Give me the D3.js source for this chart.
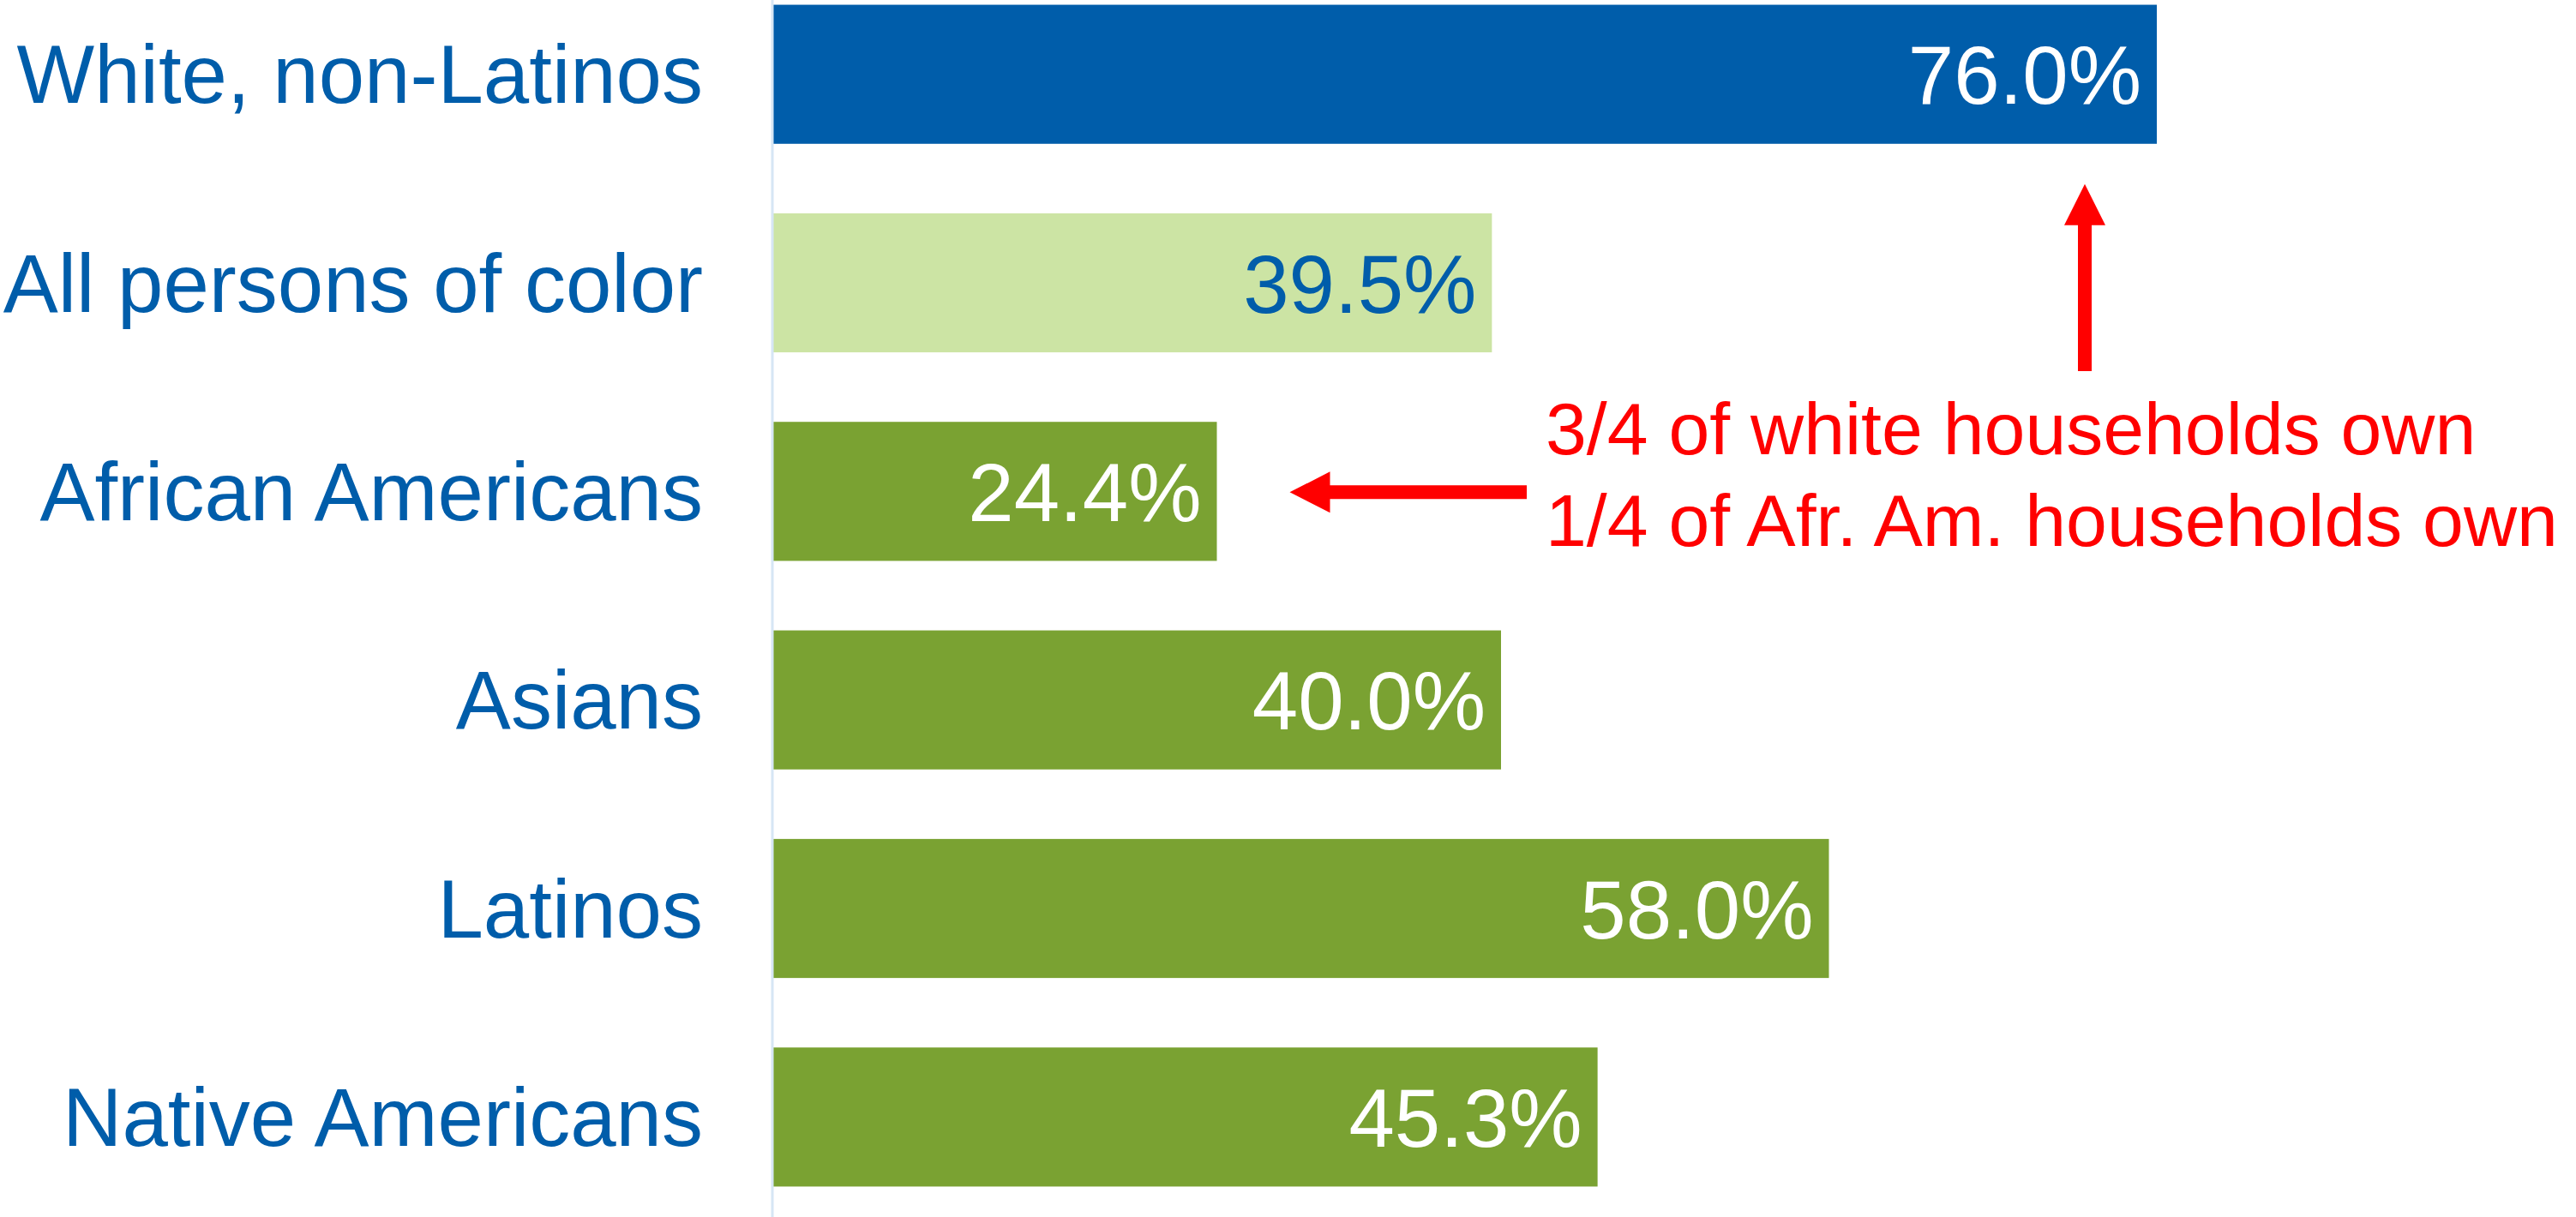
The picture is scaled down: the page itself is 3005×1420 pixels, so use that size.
<!DOCTYPE html>
<html>
<head>
<meta charset="utf-8">
<script src="https://cdn.jsdelivr.net/npm/d3@7"></script>
<style>
  body { margin: 0; background: #fff; }
  svg text { font-family: Arial, "Liberation Sans", Helvetica, sans-serif; }
</style>
</head>
<body>
<div id="chart"></div>
<script>
var groups = ["White, non-Latinos", "All persons of color", "African Americans", "Asians", "Latinos", "Native Americans"];
var ownRates = [76.0, 39.5, 24.4, 40.0, 58.0, 45.3];
var barColors = ["#005DAA", "#CCE4A4", "#7AA232", "#7AA232", "#7AA232", "#7AA232"];
var valueColors = ["#ffffff", "#005DAA", "#ffffff", "#ffffff", "#ffffff", "#ffffff"];
var noteLines = ["3/4 of white households own", "1/4 of Afr. Am. households own"];

var svgWidth = 3005;
var svgHeight = 1420;

var data = groups.map(function(g, i) {
  return { group: g, value: ownRates[i], fill: barColors[i], label: valueColors[i] };
});

var svg = d3.select("#chart")
  .append("svg")
  .attr("width", svgWidth)
  .attr("height", svgHeight);

// x: percent -> pixels, axis sits at 901
var xScale = d3.scaleLinear()
  .domain([0, 76])
  .range([901, 2516]);

// plot area runs a bit past the picture on top and bottom
var yScale = d3.scaleBand()
  .domain(groups)
  .range([-35, 1425])
  .paddingInner(1 / 3)
  .paddingOuter(1 / 6);

// bars
svg.selectAll("rect.bar")
  .data(data)
  .enter()
  .append("rect")
  .attr("class", "bar")
  .attr("x", xScale(0))
  .attr("y", d => yScale(d.group))
  .attr("width", d => xScale(d.value) - xScale(0))
  .attr("height", yScale.bandwidth())
  .attr("fill", d => d.fill);

// vertical axis line
svg.append("line")
  .attr("x1", xScale(0))
  .attr("x2", xScale(0))
  .attr("y1", 0)
  .attr("y2", svgHeight)
  .attr("stroke", "#D6E6F5")
  .attr("stroke-width", 3);

// category labels
svg.selectAll("text.cat")
  .data(data)
  .enter()
  .append("text")
  .attr("class", "cat")
  .attr("x", xScale(0) - 81)
  .attr("y", d => yScale(d.group) + yScale.bandwidth() / 2)
  .attr("dy", "0.35em")
  .attr("text-anchor", "end")
  .attr("font-size", 96)
  .attr("fill", "#005DAA")
  .text(d => d.group);

// value labels inside the bars
svg.selectAll("text.val")
  .data(data)
  .enter()
  .append("text")
  .attr("class", "val")
  .attr("x", d => xScale(d.value) - 18)
  .attr("y", d => yScale(d.group) + yScale.bandwidth() / 2)
  .attr("dy", "0.36em")
  .attr("text-anchor", "end")
  .attr("font-size", 96)
  .attr("fill", d => d.label)
  .text(d => d.value.toFixed(1) + "%");

// annotation
var note = svg.append("g");
note.selectAll("text")
  .data(noteLines)
  .enter()
  .append("text")
  .attr("x", 1803)
  .attr("y", (d, i) => 530 + i * 107)
  .attr("font-size", 86)
  .attr("fill", "#FF0000")
  .text(d => d);

// arrow pointing up to the white bar
var upX = 2432;
var upTip = yScale(groups[0]) + yScale.bandwidth() + 47;
note.append("path")
  .attr("d", `M${upX},${upTip} L${upX + 24},${upTip + 48} L${upX + 8},${upTip + 48} L${upX + 8},433 L${upX - 8},433 L${upX - 8},${upTip + 48} L${upX - 24},${upTip + 48} Z`)
  .attr("fill", "#FF0000");

// arrow pointing left to the African American bar
var afr = data[2];
var leftTip = xScale(afr.value) + 85;
var leftY = yScale(afr.group) + yScale.bandwidth() / 2 + 1;
note.append("path")
  .attr("d", `M${leftTip},${leftY} L${leftTip + 47},${leftY - 24} L${leftTip + 47},${leftY - 8} L1781,${leftY - 8} L1781,${leftY + 8} L${leftTip + 47},${leftY + 8} L${leftTip + 47},${leftY + 24} Z`)
  .attr("fill", "#FF0000");
</script>
</body>
</html>
